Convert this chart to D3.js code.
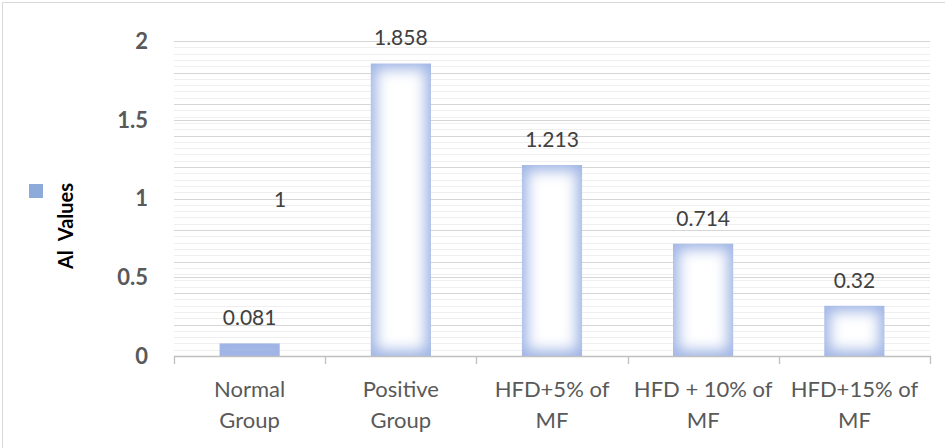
<!DOCTYPE html>
<html>
<head>
<meta charset="utf-8">
<script src="https://cdn.jsdelivr.net/npm/d3@7"></script>
<style>
  html, body { margin: 0; padding: 0; background: #fff; }
  svg { display: block; }
</style>
</head>
<body>
<script>
// ---- data ----
const categories = ["Normal Group", "Positive Group", "HFD+5% of MF", "HFD + 10% of MF", "HFD+15% of MF"];
const categoryLines = [["Normal", "Group"], ["Positive", "Group"], ["HFD+5% of", "MF"], ["HFD + 10% of", "MF"], ["HFD+15% of", "MF"]];
const aiValues = [0.081, 1.858, 1.213, 0.714, 0.32];
const valueLabels = ["0.081", "1.858", "1.213", "0.714", "0.32"];
const yTicks = [0, 0.5, 1, 1.5, 2];
const yTickLabels = ["0", "0.5", "1", "1.5", "2"];
const seriesName = "Al  Values";
const strayLabel = "1";

// ---- layout ----
const W = 945, H = 448;
const plotLeft = 174, plotRight = 930, plotTop = 41, plotBottom = 356;

const svg = d3.select("body").append("svg").attr("width", W).attr("height", H);
const defs = svg.append("defs");
defs.append("filter").attr("id", "soft").attr("x", "-50%").attr("y", "-50%").attr("width", "200%").attr("height", "200%")
  .append("feGaussianBlur").attr("stdDeviation", 7);

// chart border
svg.append("rect").attr("x", 2.5).attr("y", 2.5).attr("width", W + 10).attr("height", H + 10)
  .attr("fill", "none").attr("stroke", "#d9d9d9");

const x = d3.scaleBand().domain(categories).range([plotLeft, plotRight]).paddingInner(0.6).paddingOuter(0.3);
const y = d3.scaleLinear().domain([0, 2]).range([plotBottom, plotTop]);

// gridlines: fine lines every 0.04, stronger every 0.2 and at labelled ticks
const fine = d3.range(1, 51).map(i => +(i * 0.04).toFixed(2));
const g = svg.append("g");
g.selectAll("line.fine").data(fine).join("line")
  .attr("x1", plotLeft).attr("x2", plotRight)
  .attr("y1", d => Math.round(y(d)) + 0.5).attr("y2", d => Math.round(y(d)) + 0.5)
  .attr("stroke", (d, i) => ((i + 1) % 5 === 0 ? "#d6d6d6" : "#efefef"))
  .attr("stroke-width", 1.2);
g.selectAll("line.major").data(yTicks.filter(d => d > 0)).join("line")
  .attr("x1", plotLeft).attr("x2", plotRight)
  .attr("y1", d => Math.round(y(d)) + 0.5).attr("y2", d => Math.round(y(d)) + 0.5)
  .attr("stroke", "#d6d6d6").attr("stroke-width", 1.2);

// bars
const bars = svg.append("g");
categories.forEach((c, i) => {
  const bx = x(c), bw = x.bandwidth(), by = y(aiValues[i]), bh = y(0) - y(aiValues[i]);
  const cid = "clip" + i;
  defs.append("clipPath").attr("id", cid).append("rect")
    .attr("x", bx).attr("y", by).attr("width", bw).attr("height", bh);
  const bg = bars.append("g").attr("clip-path", `url(#${cid})`);
  bg.append("rect").attr("x", bx).attr("y", by).attr("width", bw).attr("height", bh).attr("fill", "#a0b5e5");
  const inset = 6;
  if (bh > 2 * inset) {
    bg.append("rect").attr("x", bx + inset).attr("y", by + inset)
      .attr("width", bw - 2 * inset).attr("height", bh - 2 * inset)
      .attr("fill", "#ffffff").attr("filter", "url(#soft)");
  } else {
    bg.append("rect").attr("x", bx).attr("y", by).attr("width", bw).attr("height", bh).attr("fill", "#94aee0");
    bg.append("rect").attr("x", bx + inset).attr("y", by + bh * 0.3)
      .attr("width", bw - 2 * inset).attr("height", bh * 0.4)
      .attr("fill", "#b4c6ec").attr("filter", "url(#soft)");
  }
});

// x axis line and ticks
const ax = svg.append("g");
ax.append("line").attr("x1", plotLeft).attr("x2", plotRight + 1)
  .attr("y1", plotBottom + 0.5).attr("y2", plotBottom + 0.5).attr("stroke", "#bfbfbf").attr("stroke-width", 1.3);
const bounds = categories.map(c => x(c) - x.step() * x.paddingInner() / 2);
bounds.push(plotRight);
bounds[0] = plotLeft;
ax.selectAll("line.tick").data(bounds).join("line")
  .attr("x1", d => Math.round(d) + 0.5).attr("x2", d => Math.round(d) + 0.5)
  .attr("y1", plotBottom).attr("y2", plotBottom + 8)
  .attr("stroke", "#bfbfbf").attr("stroke-width", 1.3);

// category labels
categoryLines.forEach((lines, i) => {
  const cx = x(categories[i]) + x.bandwidth() / 2;
  const t = svg.append("text").attr("x", cx).attr("y", 397)
    .attr("text-anchor", "middle").attr("fill", "#595959")
    .attr("font-family", "Lato, 'Open Sans', sans-serif").attr("font-size", 22);
  lines.forEach((ln, j) => t.append("tspan").attr("x", cx).attr("dy", j === 0 ? 0 : 31).text(ln));
});

// y tick labels
svg.selectAll("text.ytick").data(yTicks).join("text")
  .attr("x", 148).attr("y", d => y(d)).attr("dy", "0.36em")
  .attr("text-anchor", "end").attr("fill", "#595959")
  .attr("font-family", "Lato, 'Open Sans', sans-serif").attr("font-weight", "bold").attr("font-size", 22)
  .text((d, i) => yTickLabels[i]);

// data labels
svg.selectAll("text.val").data(aiValues).join("text")
  .attr("x", (d, i) => x(categories[i]) + x.bandwidth() / 2)
  .attr("y", d => y(d) - 18)
  .attr("text-anchor", "middle").attr("fill", "#404040")
  .attr("font-family", "Lato, 'Open Sans', sans-serif").attr("font-size", 21)
  .text((d, i) => valueLabels[i]);

// stray label
svg.append("text").attr("x", 280).attr("y", 207).attr("text-anchor", "middle")
  .attr("fill", "#404040").attr("font-family", "Lato, 'Open Sans', sans-serif").attr("font-size", 21)
  .text(strayLabel);

// legend swatch + y title
svg.append("rect").attr("x", 29).attr("y", 184).attr("width", 14).attr("height", 14).attr("fill", "#8eaadb");
svg.append("text").attr("transform", "translate(73,226) rotate(-90)")
  .attr("text-anchor", "middle").attr("fill", "#000")
  .attr("font-family", "Lato, 'Liberation Sans', sans-serif").attr("font-weight", "bold").attr("font-size", 20)
  .attr("xml:space", "preserve").style("white-space", "pre")
  .text(seriesName);
</script>
</body>
</html>
